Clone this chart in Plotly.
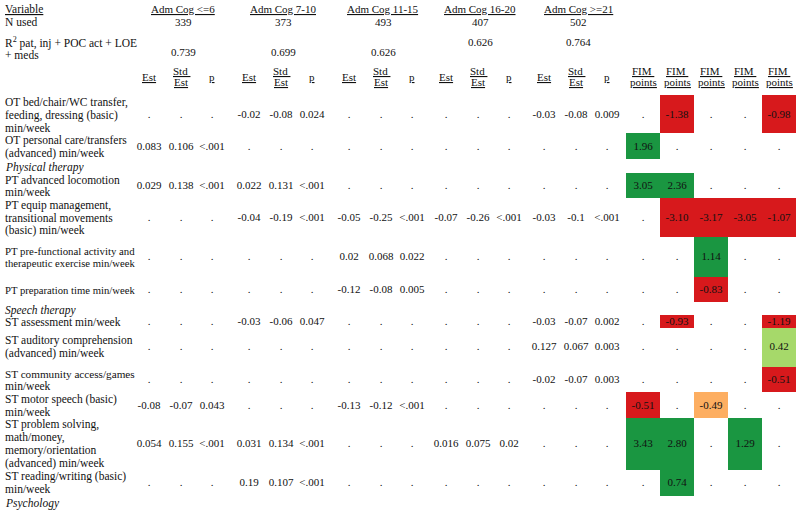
import plotly.graph_objects as go
import numpy as np

# ---------------- data ----------------
groups = ["Adm Cog <=6", "Adm Cog 7-10", "Adm Cog 11-15", "Adm Cog 16-20", "Adm Cog >=21"]
n_used = ["339", "373", "493", "407", "502"]
r2_values = ["0.739", "0.699", "0.626", "0.626", "0.764"]

row_labels = [
    ["OT bed/chair/WC transfer,", "feeding, dressing (basic)", "min/week"],
    ["OT personal care/transfers", "(advanced) min/week"],
    ["PT advanced locomotion", "min/week"],
    ["PT equip management,", "transitional movements", "(basic) min/week"],
    ["PT pre-functional activity and", "therapeutic exercise min/week"],
    ["PT preparation time min/week"],
    ["ST assessment min/week"],
    ["ST auditory comprehension", "(advanced) min/week"],
    ["ST community access/games", "min/week"],
    ["ST motor speech (basic)", "min/week"],
    ["ST problem solving,", "math/money,", "memory/orientation", "(advanced) min/week"],
    ["ST reading/writing (basic)", "min/week"],
]
sections = ["Physical therapy", "Speech therapy", "Psychology"]

est_le6 = [".", "0.083", "0.029", ".", ".", ".", ".", ".", ".", "-0.08", "0.054", "."]
std_le6 = [".", "0.106", "0.138", ".", ".", ".", ".", ".", ".", "-0.07", "0.155", "."]
p_le6 = [".", "<.001", "<.001", ".", ".", ".", ".", ".", ".", "0.043", "<.001", "."]

est_7_10 = ["-0.02", ".", "0.022", "-0.04", ".", ".", "-0.03", ".", ".", ".", "0.031", "0.19"]
std_7_10 = ["-0.08", ".", "0.131", "-0.19", ".", ".", "-0.06", ".", ".", ".", "0.134", "0.107"]
p_7_10 = ["0.024", ".", "<.001", "<.001", ".", ".", "0.047", ".", ".", ".", "<.001", "<.001"]

est_11_15 = [".", ".", ".", "-0.05", "0.02", "-0.12", ".", ".", ".", "-0.13", ".", "."]
std_11_15 = [".", ".", ".", "-0.25", "0.068", "-0.08", ".", ".", ".", "-0.12", ".", "."]
p_11_15 = [".", ".", ".", "<.001", "0.022", "0.005", ".", ".", ".", "<.001", ".", "."]

est_16_20 = [".", ".", ".", "-0.07", ".", ".", ".", ".", ".", ".", "0.016", "."]
std_16_20 = [".", ".", ".", "-0.26", ".", ".", ".", ".", ".", ".", "0.075", "."]
p_16_20 = [".", ".", ".", "<.001", ".", ".", ".", ".", ".", ".", "0.02", "."]

est_ge21 = ["-0.03", ".", ".", "-0.03", ".", ".", "-0.03", "0.127", "-0.02", ".", ".", "."]
std_ge21 = ["-0.08", ".", ".", "-0.1", ".", ".", "-0.07", "0.067", "-0.07", ".", ".", "."]
p_ge21 = ["0.009", ".", ".", "<.001", ".", ".", "0.002", "0.003", "0.003", ".", ".", "."]

fim_le6 = [None, 1.96, 3.05, None, None, None, None, None, None, -0.51, 3.43, None]
fim_7_10 = [-1.38, None, 2.36, -3.10, None, None, -0.93, None, None, None, 2.80, 0.74]
fim_11_15 = [None, None, None, -3.17, 1.14, -0.83, None, None, None, -0.49, None, None]
fim_16_20 = [None, None, None, -3.05, None, None, None, None, None, None, 1.29, None]
fim_ge21 = [-0.98, None, None, -1.07, None, None, -1.19, 0.42, -0.51, None, None, None]

stats = [
    (est_le6, std_le6, p_le6),
    (est_7_10, std_7_10, p_7_10),
    (est_11_15, std_11_15, p_11_15),
    (est_16_20, std_16_20, p_16_20),
    (est_ge21, std_ge21, p_ge21),
]
fims = [fim_le6, fim_7_10, fim_11_15, fim_16_20, fim_ge21]

# ---------------- layout geometry ----------------
FONT = "Liberation Serif"
FS = 11
FS_LABEL = 11.5
FS_LABEL_MIN = 10.5
LABEL_W = 130  # width of the label column in px
TXT = "#111111"
group_mid = [181, 281, 381, 478, 576]
col_off = [-32, 0, 31]
fim_edges = [626, 660, 694, 728, 762, 796]
fim_mid = [(a + b) / 2 for a, b in zip(fim_edges[:-1], fim_edges[1:])]
row_y = [115, 147, 186, 218, 257, 290, 322, 347, 380, 406, 444, 483]
section_y = [167, 310, 503]
line_gap = 12.7
cell_edges = [95, 133, 159, 173, 198, 237, 277, 302, 315, 328, 367, 392, 418, 470, 496]
row_slot = [0, 1, 3, 4, 5, 6, 8, 9, 10, 11, 12, 13]

# approximate Times advance widths (em) used to fit labels into their column
_w = dict(a=.444, b=.5, c=.444, d=.5, e=.444, f=.333, g=.5, h=.5, i=.278, j=.278, k=.5,
          l=.278, m=.778, n=.5, o=.5, p=.5, q=.5, r=.333, s=.389, t=.278, u=.5, v=.5,
          w=.722, x=.5, y=.5, z=.444, A=.722, C=.667, E=.611, L=.611, M=.889, O=.722,
          P=.556, S=.556, T=.611, W=.944)
_w.update({" ": .25, "/": .278, ",": .25, "(": .333, ")": .333, "-": .333, ".": .25, "+": .564})


def fit_size(s):
    em = sum(_w.get(ch, .5) for ch in s)
    return max(FS_LABEL_MIN, min(FS_LABEL, LABEL_W / em))


fig = go.Figure()

z = np.full((len(cell_edges) - 1, len(fims)), np.nan)
for j, col in enumerate(fims):
    for i, v in enumerate(col):
        if v is not None:
            z[row_slot[i], j] = v
colorscale = [
    [0.0, "#d7191c"], [0.25, "#d7191c"],
    [0.25, "#fdae61"], [0.5, "#fdae61"],
    [0.5, "#a6d96a"], [0.75, "#a6d96a"],
    [0.75, "#1a9641"], [1.0, "#1a9641"],
]
fig.add_trace(go.Heatmap(
    x=fim_edges, y=cell_edges, z=z, zmin=-1, zmax=1,
    colorscale=colorscale, showscale=False, hoverinfo="skip",
))

for g, (e, s, p) in enumerate(stats):
    for k, col in enumerate((e, s, p)):
        fig.add_trace(go.Scatter(
            x=[group_mid[g] + col_off[k]] * len(col), y=row_y, text=col,
            mode="text", textposition="middle center",
            textfont=dict(family=FONT, size=FS, color=TXT), hoverinfo="skip",
        ))

for j, col in enumerate(fims):
    fig.add_trace(go.Scatter(
        x=[fim_mid[j]] * len(col), y=row_y,
        text=["." if v is None else f"{v:.2f}" for v in col],
        mode="text", textposition="middle center",
        textfont=dict(family=FONT, size=FS, color=TXT), hoverinfo="skip",
    ))

ann = []


def add(x, y, t, xa="center", italic=False, size=FS):
    ann.append(dict(x=x, y=y, xref="x", yref="y", text=t, showarrow=False,
                    xanchor=xa, yanchor="middle", borderpad=0,
                    font=dict(family=FONT, size=size, color=TXT,
                              style="italic" if italic else "normal")))


LX = 4
for i, lines in enumerate(row_labels):
    n = len(lines)
    for k, ln in enumerate(lines):
        add(LX, row_y[i] + (k - (n - 1) / 2) * line_gap, ln, "left", size=fit_size(ln))
for t, y in zip(sections, section_y):
    add(LX, y, t, "left", italic=True, size=FS_LABEL)

add(LX, 9, "<u>Variable</u>", "left", size=FS_LABEL)
add(LX, 22, "N used", "left", size=FS_LABEL)
add(LX, 42, "R<sup>2</sup> pat, inj + POC act + LOE", "left", size=FS_LABEL)
add(LX, 55, "+ meds", "left", size=FS_LABEL)
r2_y = [52, 52, 52, 42, 42]
for g in range(len(groups)):
    add(group_mid[g] + 2, 9, f"<u>{groups[g]}</u>")
    add(group_mid[g] + 2, 22, n_used[g])
    add(group_mid[g] + 2, r2_y[g], r2_values[g])
    add(group_mid[g] + col_off[0], 77, "<u>Est</u>")
    add(group_mid[g] + col_off[1], 71, "<u>Std </u>")
    add(group_mid[g] + col_off[1], 82, "<u>Est</u>")
    add(group_mid[g] + col_off[2], 77, "<u>p</u>")
for m in fim_mid:
    add(m, 71, "<u>FIM </u>")
    add(m, 82, "<u>points</u>")

fig.update_layout(
    width=800, height=513, margin=dict(l=0, r=0, t=0, b=0),
    paper_bgcolor="white", plot_bgcolor="white", showlegend=False,
    xaxis=dict(range=[0, 800], visible=False, fixedrange=True),
    yaxis=dict(range=[513, 0], visible=False, fixedrange=True),
    annotations=ann,
)
fig.write_html("out.html", config={"displayModeBar": False},
               post_script="document.body.style.margin='0px';")
